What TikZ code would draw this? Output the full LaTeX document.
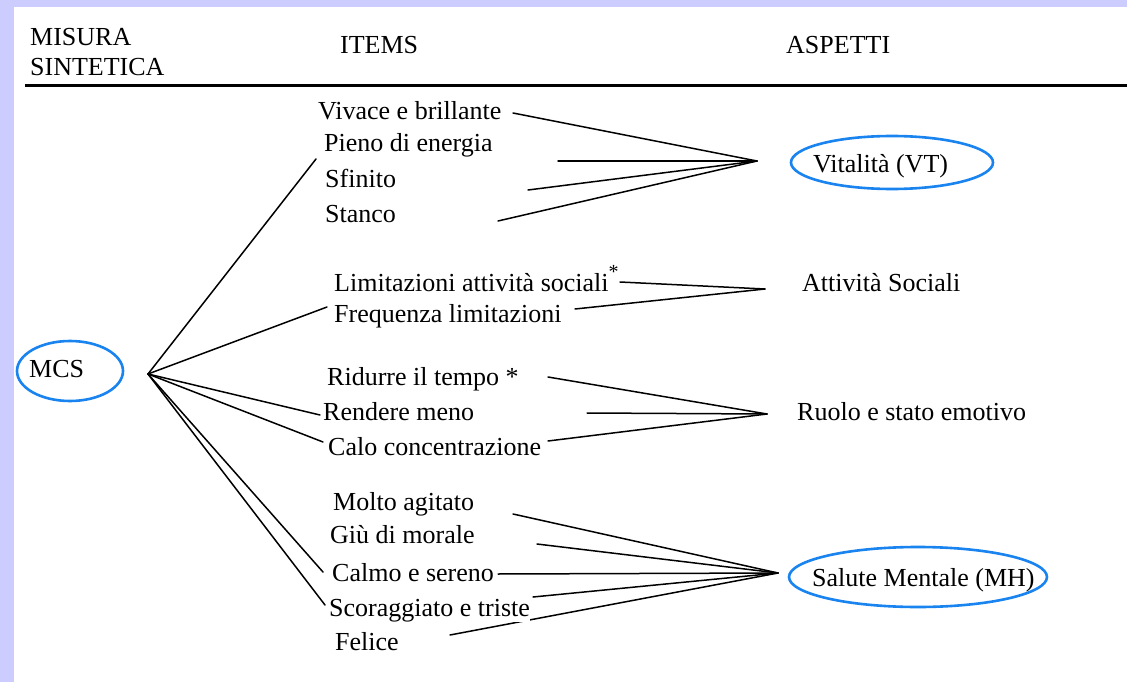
\documentclass[tikz,border=0pt]{standalone}
\usepackage{fontspec}
\setmainfont{Liberation Serif}
\usetikzlibrary{shapes.geometric}
\definecolor{bgframe}{RGB}{204,204,255}
\definecolor{ovalblue}{RGB}{25,132,240}
\begin{document}
\begin{tikzpicture}[x=1pt,y=-1pt,
  txt/.style={anchor=base west,inner sep=0pt,font=\fontsize{26}{31}\selectfont},
  conn/.style={line width=1.5pt,line cap=round},
  oval/.style={draw=ovalblue,line width=2.6pt,ellipse,inner sep=0pt}]
% frame
\fill[bgframe] (0,0) rectangle (1127,682);
\fill[white] (14,7) rectangle (1127,682);
\useasboundingbox (0,0) rectangle (1127,682);
% header
\node[txt] (hMis) at (30,46) {MISURA};
\node[txt] (hSin) at (30,76) {SINTETICA};
\node[txt] (hIt) at (340,54) {ITEMS};
\node[txt] (hAs) at (786,54) {ASPETTI};
\coordinate (ruleL) at (25,86);
\coordinate (ruleR) at (1127,86);
\draw[line width=3pt] (ruleL) -- (ruleR);
% hubs
\coordinate (hMCS) at (148,374);
\coordinate (hVT) at (757,161);
\coordinate (hAS) at (765,289);
\coordinate (hRE) at (767,414);
\coordinate (hMH) at (778,573);
% item line ends (left side)
\coordinate (lPie) at (316,159);
\coordinate (lFre) at (327,307);
\coordinate (lRen) at (320,415);
\coordinate (lCal) at (323,442);
\coordinate (lCalm) at (323,572);
\coordinate (lSco) at (325,605);
% item line ends (right side)
\coordinate (rViv) at (513,113);
\coordinate (rPie) at (558,161);
\coordinate (rSfi) at (528,190);
\coordinate (rSta) at (498,221);
\coordinate (rLim) at (620,282);
\coordinate (rFre) at (575,309);
\coordinate (rRid) at (548,377);
\coordinate (rRen) at (587,413);
\coordinate (rCal) at (548,441);
\coordinate (rMol) at (513,514);
\coordinate (rGiu) at (537,544);
\coordinate (rCalm) at (498,574);
\coordinate (rSco) at (533,597);
\coordinate (rFel) at (450,635);
% connectors
\foreach \e in {lPie,lFre,lRen,lCal,lCalm,lSco} \draw[conn] (hMCS) -- (\e);
\foreach \e in {rViv,rPie,rSfi,rSta} \draw[conn] (\e) -- (hVT);
\foreach \e in {rLim,rFre} \draw[conn] (\e) -- (hAS);
\foreach \e in {rRid,rRen,rCal} \draw[conn] (\e) -- (hRE);
\foreach \e in {rMol,rGiu,rCalm,rSco,rFel} \draw[conn] (\e) -- (hMH);
% items
\node[txt] (iViv) at (318,120) {Vivace e brillante};
\node[txt] (iPie) at (324,152) {Pieno di energia};
\node[txt] (iSfi) at (325,187) {Sfinito};
\node[txt] (iSta) at (325,222) {Stanco};
\node[txt] (iLim) at (334,291) {Limitazioni attività sociali\raisebox{0.5em}{\fontsize{20}{20}\selectfont *}};
\node[txt] (iFre) at (334,322) {Frequenza limitazioni};
\node[txt] (iRid) at (327,385) {Ridurre il tempo *};
\node[txt] (iRen) at (323,420) {Rendere meno};
\node[txt] (iCal) at (328,455) {Calo concentrazione};
\node[txt] (iMol) at (333,510) {Molto agitato};
\node[txt] (iGiu) at (330,543) {Giù di morale};
\node[txt] (iCalm) at (332,581) {Calmo e sereno};
\node[txt,fill=white] (iSco) at (329,616) {Scoraggiato e triste};
\node[txt] (iFel) at (335,650) {Felice};
% aspects
\node[oval,minimum width=106pt,minimum height=60pt] (oMCS) at (70,371) {};
\node[txt] (aMCS) at (29,377) {MCS};
\node[oval,minimum width=202pt,minimum height=53pt] (oVT) at (892,162.5) {};
\node[txt] (aVT) at (813,172) {Vitalità (VT)};
\node[txt] (aAS) at (802,291) {Attività Sociali};
\node[txt] (aRE) at (797,420) {Ruolo e stato emotivo};
\node[oval,minimum width=258pt,minimum height=60pt] (oMH) at (918,577) {};
\node[txt] (aMH) at (812,586) {Salute Mentale (MH)};
\end{tikzpicture}
\end{document}
